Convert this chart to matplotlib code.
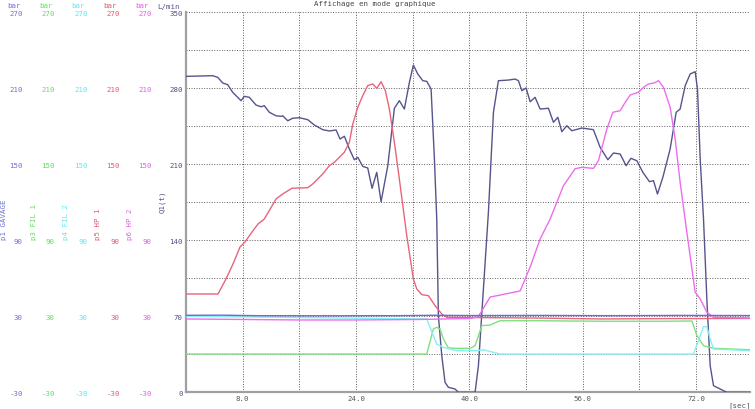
import numpy as np
import matplotlib
matplotlib.use('Agg')
import matplotlib.pyplot as plt

plt.rcParams['axes.unicode_minus'] = False

# ---------------- data ----------------
t_q1 = [0, 3.77, 4.48, 5.18, 5.89, 6.59, 7.77, 8.23, 8.94, 9.88, 10.59, 11.05, 11.76, 12.71,
        13.41, 13.65, 14.36, 15.06, 16.0, 17.18, 18.11, 19.30, 20.23, 21.18, 21.74, 22.35,
        23.06, 23.76, 24.24, 24.95, 25.65, 26.26, 26.92, 27.53, 28.48, 29.41, 30.11, 30.82,
        31.53, 32.09, 32.71, 33.42, 33.98, 34.59, 35.06, 35.39, 35.62, 36.10, 36.56, 37.03,
        37.98, 38.44, 40.8, 41.27, 42.68, 43.39, 44.09, 45.50, 46.45, 46.92, 47.40, 48.0,
        48.57, 49.27, 49.98, 51.15, 51.86, 52.48, 53.04, 53.75, 54.45, 55.87, 57.50, 58.45,
        59.54, 60.33, 61.27, 62.12, 62.79, 63.63, 64.48, 65.41, 65.98, 66.54, 67.30, 68.33,
        69.18, 69.74, 70.45, 71.16, 71.86, 72.19, 72.57, 73.04, 73.51, 73.98, 74.45, 75.86,
        76.34, 79.6]
q1 = [291.0, 291.6, 290.1, 284.9, 283.3, 276.3, 268.6, 272.6, 271.7, 264.6, 263.0, 264.0, 257.9,
      254.7, 254.2, 254.7, 250.1, 252.4, 252.9, 251.1, 246.2, 241.9, 240.7, 241.6, 233.3, 235.8,
      224.1, 214.2, 216.4, 208.1, 206.6, 187.9, 202.6, 175.5, 208.7, 261.6, 268.6, 260.9, 285.5,
      301.4, 293.2, 287.0, 286.4, 279.3, 214.9, 159.6, 70.5, 33.7, 9.2, 4.6, 3.0, 0, 0, 24.5,
      165.8, 257.9, 287.0, 287.6, 288.5, 287.0, 277.8, 280.3, 267.6, 271.7, 260.9, 261.6, 248.7,
      253.3, 240.0, 245.5, 240.9, 243.4, 241.9, 225.6, 214.2, 220.4, 219.5, 208.7, 215.5, 213.3,
      202.6, 194.0, 194.9, 182.6, 198.0, 224.1, 257.9, 260.9, 282.4, 293.2, 295.3, 279.3, 214.9,
      159.6, 85.9, 24.5, 6.1, 1.5, 0, 0]

t_p5 = [0, 4.52, 5.65, 6.64, 7.62, 8.33, 9.32, 10.17, 11.05, 12.71, 13.65, 14.97, 17.18, 17.89,
        19.30, 20.23, 20.94, 22.35, 23.06, 23.54, 24.24, 24.95, 25.65, 26.36, 26.92, 27.53,
        28.14, 28.70, 29.41, 30.11, 31.16, 32.09, 32.57, 33.28, 34.21, 35.15, 36.10, 36.80,
        50.0, 58.5, 68.0, 79.6]
p5 = [47.6, 47.6, 59.5, 71.4, 84.7, 88.7, 96.6, 102.9, 106.8, 122.6, 126.6, 131.1, 131.5, 134.5,
      142.4, 148.9, 151.6, 159.5, 167.4, 181.8, 195.0, 204.2, 212.1, 213.4, 210.0, 215.2, 208.1,
      193.7, 167.4, 138.4, 93.6, 59.4, 51.6, 47.1, 46.3, 38.4, 31.8, 29.2, 28.6, 27.9, 28.2, 28.3]

t_p6 = [0, 16.0, 24.0, 33.0, 40.0, 41.22, 42.92, 45.04, 47.16, 48.57, 49.98, 51.39, 52.34, 53.27,
        54.92, 55.86, 57.50, 58.21, 59.40, 60.25, 61.27, 61.84, 62.69, 63.86, 64.57, 65.27,
        66.08, 66.68, 67.39, 68.33, 69.04, 69.74, 70.69, 71.86, 72.57, 73.51, 74.45, 79.6]
p6 = [27.9, 27.1, 27.1, 27.5, 28.3, 29.4, 45.2, 47.6, 50.0, 68.9, 91.0, 106.8, 120.0, 133.1, 146.5,
      147.6, 146.8, 152.9, 177.9, 191.1, 192.3, 197.6, 204.7, 206.9, 210.8, 213.4, 214.2, 216.0,
      210.8, 195.0, 170.0, 135.8, 96.3, 49.0, 43.7, 33.2, 29.2, 28.7]

t_p3 = [0, 33.98, 34.91, 35.39, 35.86, 36.32, 37.03, 38.22, 40.1, 40.80, 41.75, 42.92, 44.33,
        49.51, 58.87, 67.80, 71.40, 72.11, 73.04, 74.45, 79.6]
p3 = [0.2, 0.2, 20.0, 21.3, 20.0, 12.1, 5.0, 4.7, 4.7, 6.8, 22.6, 23.1, 26.5, 26.5, 26.1, 26.1,
      26.3, 14.7, 6.8, 4.7, 3.6]

t_p4 = [0, 33.98, 34.91, 35.39, 36.32, 38.22, 41.04, 41.97, 44.33, 71.62, 72.57, 73.04, 73.51,
        73.98, 74.45, 79.6]
p4 = [30.0, 27.9, 14.7, 8.1, 5.5, 2.8, 2.8, 3.6, 0.2, 0.2, 14.7, 21.8, 21.8, 12.1, 4.2, 2.8]

t_p1 = [0, 5.0, 10.0, 20.0, 30.0, 35.0, 40.0, 50.0, 55.0, 60.0, 70.0, 79.6]
p1 = [30.8, 30.9, 30.5, 30.4, 30.5, 30.8, 30.6, 30.7, 30.6, 30.5, 30.7, 30.6]

press_ticks = [-30, 30, 90, 150, 210, 270]
q_ticks = [0, 70, 140, 210, 280, 350]
x_ticks = [8, 24, 40, 56, 72]
x_minor = [16, 32, 48, 64]

labels = ['p1 GAVAGE', 'p3 FIL 1', 'p4 FIL 2', 'p5 HP 1', 'p6 HP 2']
title = 'Affichage en mode graphique'

# ---------------- style ----------------
W, H = 755, 410
FONT = 'DejaVu Sans Mono'
FS = 5.3
c_p1, c_p3, c_p4, c_p5, c_p6, c_q = '#7070d4', '#5fe05f', '#60e6ee', '#e05a70', '#e060e0', '#505088'
l_p1, l_p3, l_p4, l_p5, l_p6, l_q = '#6a6ad8', '#7ee07e', '#84f0f0', '#e8647c', '#ee6cee', '#55558c'

fig = plt.figure(figsize=(W / 100, H / 100), dpi=100)
x0, x1, y0, y1 = 186, 750, 13.3, 393.3
ax = fig.add_axes([x0 / W, 1 - y1 / H, (x1 - x0) / W, (y1 - y0) / H])
ax.set_xlim(0, 79.6)
ax.set_ylim(0, 350)

ax.set_xticks(x_ticks)
ax.set_xticklabels([f'{v:.1f}' for v in x_ticks])
ax.set_xticks(x_minor, minor=True)
ax.set_yticks(q_ticks)
ax.set_yticks(np.arange(35, 350, 70), minor=True)
ax.tick_params(which='both', length=0)
ax.tick_params(axis='x', pad=1.8, labelsize=FS, labelcolor='#555555')
ax.tick_params(axis='y', pad=2.2, labelsize=FS, labelcolor=c_q)
for lab in ax.get_xticklabels() + ax.get_yticklabels():
    lab.set_fontfamily(FONT)
ax.grid(True, which='both', color='#606060', linestyle=(0, (1, 1.6)), linewidth=0.7)
for s in ['top', 'right']:
    ax.spines[s].set_visible(False)
for s in ['left', 'bottom']:
    ax.spines[s].set_color('#a0a0a0')
    ax.spines[s].set_linewidth(1.6)
ax.set_axisbelow(True)

# pressure-scale axis for the pressure curves
axp = ax.twinx()
axp.set_ylim(-30, 270)
axp.axis('off')

# label columns for the five pressure scales
offsets_px = [160, 128, 95, 63, 31]
cols = [c_p1, c_p3, c_p4, c_p5, c_p6]
for off, col in zip(offsets_px, cols):
    a = ax.twinx()
    a.set_ylim(-30, 270)
    a.yaxis.tick_left()
    for s in a.spines.values():
        s.set_visible(False)
    a.spines['left'].set_position(('outward', off * 0.72))
    a.set_yticks(press_ticks)
    a.tick_params(axis='y', length=0, pad=2.2, labelsize=FS, labelcolor=col)
    for lab in a.get_yticklabels():
        lab.set_fontfamily(FONT)

# curves
ax.plot(t_q1, q1, color=l_q, lw=1.0, zorder=3)
axp.plot(t_p3, p3, color=l_p3, lw=1.0)
axp.plot(t_p4, p4, color=l_p4, lw=1.0)
axp.plot(t_p5, p5, color=l_p5, lw=1.0)
axp.plot(t_p6, p6, color=l_p6, lw=1.0)
axp.plot(t_p1, p1, color=l_p1, lw=1.0)

# units on top
def ftext(x, y, s, **kw):
    fig.text(x / W, 1 - y / H, s, fontfamily=FONT, fontsize=FS, **kw)

for xc, col in zip([13.5, 46, 78, 110, 141.5], cols):
    ftext(xc, 6.5, 'bar', color=col, ha='center', va='center')
ftext(169, 6.5, 'L/min', color=c_q, ha='center', va='center')

# vertical series names
for xc, yb, s, col in zip([4, 34, 66, 98, 130], [240, 240, 240, 240, 240], labels, cols):
    ftext(xc, yb, s, color=col, ha='center', va='bottom', rotation=90)
ftext(162, 213, 'Q1(t)', color=c_q, ha='center', va='bottom', rotation=90)

ftext(375, 4, title, color='#444444', ha='center', va='center')
ftext(740, 406, '[sec]', color='#555555', ha='center', va='center')

fig.savefig('out.png', dpi=100)
